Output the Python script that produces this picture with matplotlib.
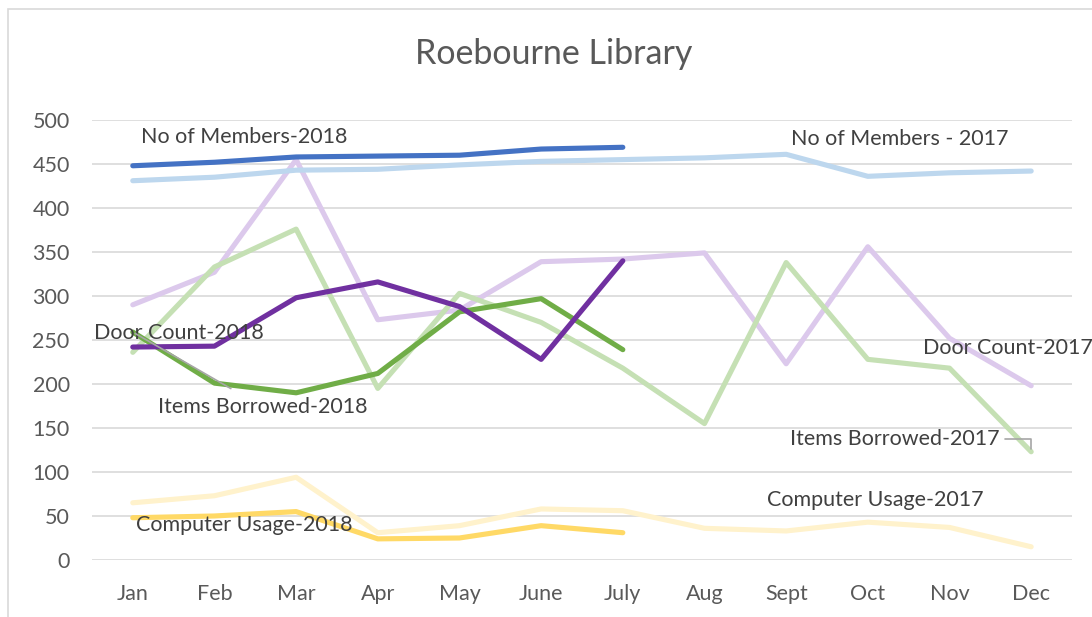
import matplotlib
matplotlib.use("Agg")
import matplotlib.pyplot as plt
from matplotlib.patches import Rectangle

plt.rcParams["font.family"] = ["Lato", "DejaVu Sans"]

months = ["Jan", "Feb", "Mar", "Apr", "May", "June", "July",
          "Aug", "Sept", "Oct", "Nov", "Dec"]

members_2017 = [431, 435, 443, 444, 449, 453, 455, 457, 461, 436, 440, 442]
door_2017 = [290, 327, 455, 273, 284, 339, 342, 349, 223, 356, 252, 198]
items_2017 = [236, 333, 376, 195, 303, 270, 218, 155, 338, 228, 218, 123]
computer_2017 = [65, 73, 94, 31, 39, 58, 56, 36, 33, 43, 37, 15]

members_2018 = [448, 452, 458, 459, 460, 467, 469]
door_2018 = [242, 243, 298, 316, 288, 228, 340]
items_2018 = [259, 201, 190, 212, 282, 297, 239]
computer_2018 = [48, 50, 55, 24, 25, 39, 31]

# (values, colour) in drawing order: 2017 first, 2018 on top
SERIES = [
    (door_2017, "#DCC9EC"),
    (items_2017, "#C5E0B4"),
    (computer_2017, "#FFF2CC"),
    (members_2017, "#BDD7EE"),
    (computer_2018, "#FFD966"),
    (items_2018, "#70AD47"),
    (door_2018, "#7030A0"),
    (members_2018, "#4472C4"),
]

TEXT_COL = "#404040"
TICK_COL = "#595959"
GRID_COL = "#D9D9D9"

fig = plt.figure(figsize=(10.92, 6.17), dpi=100, facecolor="white")
ax = fig.add_axes([0.0842, 0.0924, 0.8975, 0.7131])

x_all = list(range(len(months)))
for vals, col in SERIES:
    ax.plot(x_all[:len(vals)], vals, color=col, lw=3.7,
            solid_capstyle="round", solid_joinstyle="round")

ax.set_xlim(-0.5, 11.5)
ax.set_ylim(0, 500)
ax.set_yticks(range(0, 501, 50))
ax.set_xticks(x_all)
ax.set_xticklabels(months)
ax.tick_params(axis="both", length=0, labelsize=15.5, labelcolor=TICK_COL)
ax.tick_params(axis="x", pad=17)
ax.tick_params(axis="y", pad=16)
ax.grid(axis="y", color=GRID_COL, lw=1.2)
ax.set_axisbelow(True)
for s in ax.spines.values():
    s.set_visible(False)

lab = dict(fontsize=15.5, color=TEXT_COL, ha="center", va="center", zorder=10)
ax.text(1.36, 481, "No of Members-2018", **lab)
ax.text(9.39, 478, "No of Members - 2017", **lab)
ax.text(0.56, 258, "Door Count-2018", **lab)
ax.text(10.71, 241, "Door Count-2017", **lab)
ax.text(9.09, 68, "Computer Usage-2017", **lab)
ax.text(1.36, 40, "Computer Usage-2018", **lab)

ax.annotate("Items Borrowed-2018", xy=(0, items_2018[0]), xytext=(1.59, 174),
            arrowprops=dict(arrowstyle="-", color="#A6A6A6", lw=1.2,
                            shrinkA=8, shrinkB=2), **lab)
ax.annotate("Items Borrowed-2017", xy=(11, items_2017[11]), xytext=(9.33, 137.5),
            arrowprops=dict(arrowstyle="-", color="#A6A6A6", lw=1.2,
                            connectionstyle="angle,angleA=0,angleB=90,rad=0",
                            shrinkA=2, shrinkB=2), **lab)

fig.text(0.507, 0.912, "Roebourne Library", fontsize=24.5, color=TICK_COL,
         ha="center", va="center")

# light chart border (right and bottom edges are cropped in the original)
fig.patches.append(Rectangle((0.0075, -0.05), 1.1, 1.035, transform=fig.transFigure,
                             fill=False, edgecolor=GRID_COL, lw=1.2))

fig.savefig("out.png", dpi=100, facecolor="white")
